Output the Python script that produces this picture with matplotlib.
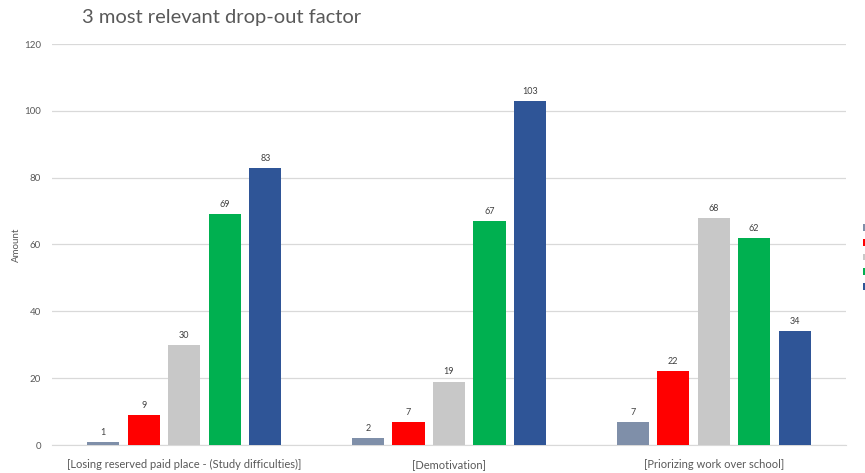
import matplotlib.pyplot as plt
from matplotlib.patches import Patch
import numpy as np

plt.rcParams['font.family'] = ['Lato', 'DejaVu Sans']

categories = ['[Losing reserved paid place - (Study difficulties)]', '[Demotivation]', '[Priorizing work over school]']
series_names = ['', '', '', '', '']
values = [
    [1, 2, 7],
    [9, 7, 22],
    [30, 19, 68],
    [69, 67, 62],
    [83, 103, 34],
]
colors = ['#7F8FA9', '#FF0000', '#C8C8C8', '#00B050', '#2F5597']

fig = plt.figure(figsize=(8.65, 4.73), dpi=100)
ax = fig.add_axes([52 / 865, 1 - 445 / 473, (846 - 52) / 865, (445 - 44) / 473])

x = np.arange(len(categories))
width = 0.121
pitch = 0.153
for i, (vals, c) in enumerate(zip(values, colors)):
    pos = x + (i - 2) * pitch
    bars = ax.bar(pos, vals, width=width, color=c, zorder=3)
    for b, v in zip(bars, vals):
        ax.text(b.get_x() + b.get_width() / 2, v + 1.5, str(v), ha='center', va='bottom',
                fontsize=6.5, color='#404040')

ax.set_xlim(-0.5, 2.5)
ax.set_ylim(0, 120)
ax.set_yticks(range(0, 121, 20))
ax.set_xticks(x)
ax.set_xticklabels(categories, fontsize=8, color='#595959')
ax.tick_params(axis='y', labelsize=7, colors='#595959', length=0, pad=8)
ax.tick_params(axis='x', length=0, pad=10)
ax.yaxis.grid(True, color='#D9D9D9', linewidth=0.9, zorder=0)
for s in ['top', 'right', 'left']:
    ax.spines[s].set_visible(False)
ax.spines['bottom'].set_color('#D9D9D9')
ax.set_ylabel('Amount', fontsize=7, color='#595959')
ax.yaxis.set_label_coords(-31 / 794, 0.5)

fig.text(82 / 865, 1 - 18 / 473, '3 most relevant drop-out factor', fontsize=14.5,
         color='#595959', va='center', ha='left')

handles = [Patch(facecolor=c) for c in colors]
fig.legend(handles, series_names, loc='upper left', bbox_to_anchor=(858 / 865, 1 - 219 / 473),
           frameon=False, handlelength=0.6, handleheight=0.6, labelspacing=0.55,
           fontsize=7.5, borderpad=0, handletextpad=0.3)

fig.savefig('out.png', dpi=100)
